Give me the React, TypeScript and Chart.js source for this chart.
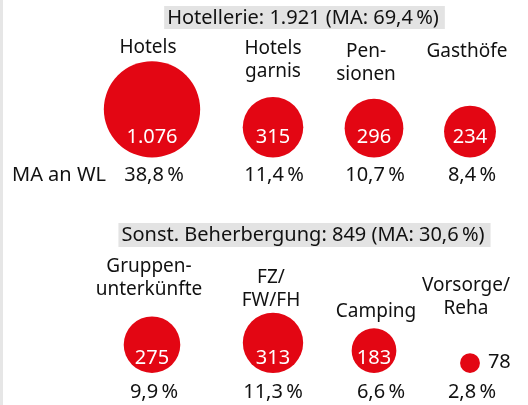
import React, { useEffect, useRef } from "react";
import { Chart, registerables } from "chart.js";

Chart.register(...registerables);

// ---------- data ----------
const groupNames = ["Hotellerie", "Sonst. Beherbergung"];
const groupTotals = [1921, 849];
const groupShares = [69.4, 30.6];

const hotelCategories = [["Hotels"], ["Hotels", "garnis"], ["Pen-", "sionen"], ["Gasthöfe"]];
const hotelValues = [1076, 315, 296, 234];
const hotelShares = [38.8, 11.4, 10.7, 8.4];

const otherCategories = [["Gruppen-", "unterkünfte"], ["FZ/", "FW/FH"], ["Camping"], ["Vorsorge/", "Reha"]];
const otherValues = [275, 313, 183, 78];
const otherShares = [9.9, 11.3, 6.6, 2.8];

const shareRowLabel = "MA an WL";

// ---------- layout / style ----------
const W = 528;
const H = 405;
const RED = "#e30613";
const INK = "#111111";
const GREY = "#e3e3e3";
const FONT = "'Noto Sans', 'DejaVu Sans', sans-serif";

const COLUMN_SLOTS = [152, 273, 374, 470];
const LABEL_NUDGE = [
  [-4, 0, -8, -3],
  [-3, -2, 2, -4],
];
const SHARE_NUDGE = [
  [2, 1, 1, 2],
  [2, 0, 7, 2],
];
const ROW_BUBBLE_BOTTOM = [157.5, 373];
const ROW_NUMBER_BASELINE = [143, 364];
const ROW_SHARE_BASELINE = [181, 398];
const ROW_TITLE_BASELINE = [24, 241];
const ROW_TITLE_BOX = [
  { top: 6, height: 23 },
  { top: 223, height: 24 },
];
const LABEL_LAST_BASELINE = [
  [53, 77, 80, 57],
  [295, 306, 317, 314],
];
const LINE_HEIGHT = 23.5;
const TITLE_CENTER = 303;

const radiusFor = (v: number) => 14.57 * Math.log(v) - 53.55;

const fmtInt = (v: number) => {
  if (v < 1000) return String(v);
  const rest = String(v % 1000).padStart(3, "0");
  return `${Math.floor(v / 1000)}.${rest}`;
};
const fmtPct = (v: number) => `${v.toFixed(1).replace(".", ",")}\u2009%`;

const rows = [
  { cats: hotelCategories, values: hotelValues, shares: hotelShares },
  { cats: otherCategories, values: otherValues, shares: otherShares },
];

const textPlugin = {
  id: "infoText",
  beforeDatasetsDraw(chart: any) {
    const ctx = chart.ctx as CanvasRenderingContext2D;
    ctx.save();
    ctx.fillStyle = "#e6e6e6";
    ctx.fillRect(0, 0, 3, H);
    // group titles with grey boxes
    ctx.font = `20px ${FONT}`;
    rows.forEach((_, ri) => {
      const t = `${groupNames[ri]}: ${fmtInt(groupTotals[ri])} (MA: ${fmtPct(groupShares[ri])})`;
      const w = ctx.measureText(t).width;
      const box = ROW_TITLE_BOX[ri];
      ctx.fillStyle = GREY;
      ctx.fillRect(TITLE_CENTER - w / 2 - 3, box.top, w + 9, box.height);
      ctx.fillStyle = INK;
      ctx.textAlign = "center";
      ctx.textBaseline = "alphabetic";
      ctx.fillText(t, TITLE_CENTER, ROW_TITLE_BASELINE[ri]);
    });
    ctx.restore();
  },
  afterDatasetsDraw(chart: any) {
    const ctx = chart.ctx as CanvasRenderingContext2D;
    const xs = chart.scales.x;
    ctx.save();
    ctx.textBaseline = "alphabetic";
    rows.forEach((row, ri) => {
      const meta = chart.getDatasetMeta(ri);
      row.cats.forEach((lines, ci) => {
        const cx = xs.getPixelForValue(COLUMN_SLOTS[ci]);
        // category labels
        ctx.font = `19px ${FONT}`;
        ctx.fillStyle = INK;
        ctx.textAlign = "center";
        const last = LABEL_LAST_BASELINE[ri][ci];
        lines.forEach((ln, li) => {
          ctx.fillText(ln, cx + LABEL_NUDGE[ri][ci], last - (lines.length - 1 - li) * LINE_HEIGHT);
        });
        // shares
        ctx.font = `20px ${FONT}`;
        ctx.fillText(fmtPct(row.shares[ci]), cx + SHARE_NUDGE[ri][ci], ROW_SHARE_BASELINE[ri]);
        // value in / beside bubble
        const el = meta.data[ci];
        const r = radiusFor(row.values[ci]);
        const txt = fmtInt(row.values[ci]);
        ctx.font = `20px ${FONT}`;
        const tw = ctx.measureText(txt).width;
        if (tw < r * 2 + 2) {
          ctx.fillStyle = "#ffffff";
          ctx.textAlign = "center";
          ctx.fillText(txt, el.x, ROW_NUMBER_BASELINE[ri]);
        } else {
          ctx.fillStyle = INK;
          ctx.textAlign = "left";
          ctx.fillText(txt, el.x + r + 8, el.y + 5);
        }
      });
    });
    ctx.font = `20px ${FONT}`;
    ctx.fillStyle = INK;
    ctx.textAlign = "left";
    ctx.fillText(shareRowLabel, 12, ROW_SHARE_BASELINE[0]);
    ctx.restore();
  },
};

export default function App() {
  const ref = useRef<HTMLCanvasElement | null>(null);
  useEffect(() => {
    if (!ref.current) return;
    const datasets = rows.map((row, ri) => ({
      label: groupNames[ri],
      data: row.values.map((v, ci) => ({
        x: COLUMN_SLOTS[ci],
        y: ROW_BUBBLE_BOTTOM[ri] - radiusFor(v),
        r: radiusFor(v),
      })),
      backgroundColor: RED,
      borderWidth: 0,
      hoverRadius: 0,
      clip: false,
    }));
    const chart = new Chart(ref.current, {
      type: "bubble",
      data: { datasets },
      options: {
        animation: false,
        responsive: false,
        maintainAspectRatio: false,
        layout: { padding: 0, autoPadding: false },
        events: [],
        plugins: { legend: { display: false }, tooltip: { enabled: false }, title: { display: false } },
        scales: {
          x: { type: "linear", display: false, min: 0, max: W },
          y: { type: "linear", display: false, min: 0, max: H, reverse: true },
        },
      },
      plugins: [textPlugin],
    } as any);
    return () => chart.destroy();
  }, []);
  return (
    <div style={{ position: "absolute", left: 0, top: 0, width: W, height: H, background: "#fff" }}>
      <canvas ref={ref} width={W} height={H} style={{ display: "block", width: W, height: H }} />
    </div>
  );
}
